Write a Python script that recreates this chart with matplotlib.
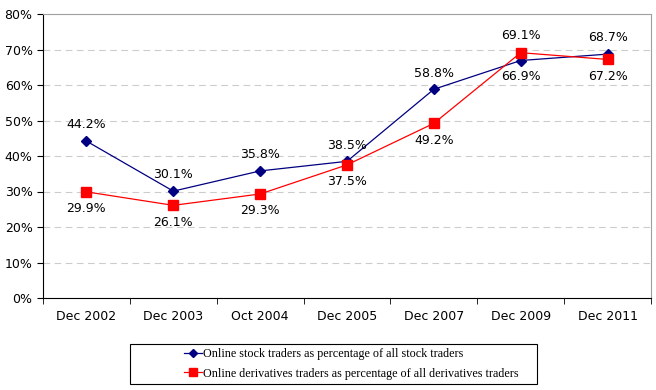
import numpy as np
import matplotlib
matplotlib.use('Agg')
import matplotlib.pyplot as plt
from matplotlib.ticker import FuncFormatter
from matplotlib.patches import Rectangle

categories = ['Dec 2002', 'Dec 2003', 'Oct 2004', 'Dec 2005', 'Dec 2007', 'Dec 2009', 'Dec 2011']
stock = [44.2, 30.1, 35.8, 38.5, 58.8, 66.9, 68.7]
deriv = [29.9, 26.1, 29.3, 37.5, 49.2, 69.1, 67.2]
# label above (+1) or below (-1) the point
stock_pos = [1, 1, 1, 1, 1, -1, 1]
deriv_pos = [-1, -1, -1, -1, -1, 1, -1]

fig = plt.figure(figsize=(6.56, 3.9), dpi=100)
ax = fig.add_axes([43/656, (390-298)/390, (651-43)/656, (298-14)/390])

x = np.arange(len(categories))
l1, = ax.plot(x, stock, color='#000080', lw=0.9, marker='D', ms=5, label='Online stock traders as percentage of all stock traders')
l2, = ax.plot(x, deriv, color='#ff0000', lw=0.9, marker='s', ms=7, label='Online derivatives traders as percentage of all derivatives traders')

for xi, v, p in zip(x, stock, stock_pos):
    ax.annotate(f'{v:.1f}%', (xi, v), xytext=(0, 7*p), textcoords='offset points',
                ha='center', va='bottom' if p > 0 else 'top', fontsize=9)
for xi, v, p in zip(x, deriv, deriv_pos):
    ax.annotate(f'{v:.1f}%', (xi, v), xytext=(0, 7.5*p), textcoords='offset points',
                ha='center', va='bottom' if p > 0 else 'top', fontsize=9)

ax.set_xlim(-0.5, len(categories) - 0.5)
ax.set_ylim(0, 80)
ax.set_yticks(range(0, 81, 10))
ax.yaxis.set_major_formatter(FuncFormatter(lambda v, _: f'{v:.0f}%'))
ax.set_xticks(x)
ax.set_xticklabels(categories, fontsize=9)
ax.tick_params(axis='x', length=0, pad=9)
ax.set_xticks(np.arange(-0.5, len(categories)), minor=True)
ax.tick_params(axis='x', which='minor', length=4, direction='out', color='black')
ax.tick_params(axis='y', labelsize=9, length=4, direction='out')
for yv in range(10, 80, 10):
    ax.axhline(yv, color='#cccccc', lw=0.8, ls=(0, (6, 4)), zorder=0)

ax.spines['top'].set_color('#a0a0a0')
ax.spines['right'].set_color('#a0a0a0')
ax.spines['left'].set_color('black')
ax.spines['bottom'].set_color('black')

# legend box drawn by hand, entries placed inside it
fig.patches.append(Rectangle((130/656, 1 - 384/390), 407/656, 40/390, transform=fig.transFigure,
                             facecolor='white', edgecolor='black', lw=0.8))
leg = fig.legend(handles=[l1, l2], loc='center left', bbox_to_anchor=(184/656, 1 - 364/390),
                 prop={'family': 'Liberation Serif', 'size': 8.7}, frameon=False,
                 handlelength=1.5, handletextpad=0.1, borderpad=0, borderaxespad=0,
                 labelspacing=0.6, markerscale=0.8)

fig.savefig('out.png', dpi=100)
